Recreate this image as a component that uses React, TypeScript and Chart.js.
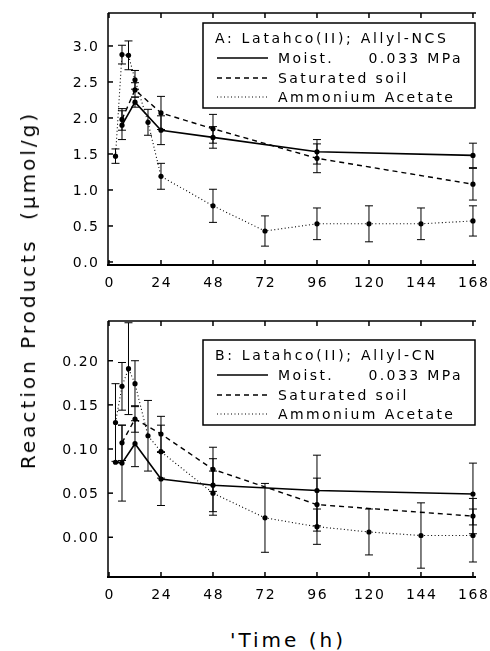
import React, { useEffect, useRef } from 'react';
import { Chart, registerables } from 'chart.js';
Chart.register(...registerables);

const FONT = '"DejaVu Sans", sans-serif';

// ---- tick labels ----
const xTicks = [0, 24, 48, 72, 96, 120, 144, 168];
const yTicksA = [0, 0.5, 1.0, 1.5, 2.0, 2.5, 3.0];
const yTicksB = [0, 0.05, 0.10, 0.15, 0.20];

// ---- legend text ----
const seriesLabels = ['Moist.     0.033 MPa', 'Saturated soil', 'Ammonium Acetate'];
const titleA = 'A: Latahco(II); Allyl-NCS';
const titleB = 'B: Latahco(II); Allyl-CN';
const yTitle = 'Reaction Products  (µmol/g)';
const xTitle = "'Time (h)";

// ---- panel A data ----
const timesA_moist = [6, 12, 24, 48, 96, 168];
const valA_moist = [1.90, 2.22, 1.83, 1.73, 1.53, 1.48];
const errA_moist = [0.2, 0.07, 0.2, 0.15, 0.17, 0.17];
const timesA_sat = [6, 12, 24, 48, 96, 168];
const valA_sat = [1.98, 2.39, 2.07, 1.85, 1.44, 1.08];
const errA_sat = [0.15, 0.1, 0.23, 0.2, 0.2, 0.22];
const timesA_amm = [3, 6, 9, 12, 18, 24, 48, 72, 96, 120, 144, 168];
const valA_amm = [1.47, 2.88, 2.87, 2.53, 1.94, 1.19, 0.78, 0.43, 0.53, 0.53, 0.53, 0.57];
const errA_amm = [0.1, 0.13, 0.2, 0.13, 0.18, 0.18, 0.23, 0.21, 0.22, 0.25, 0.22, 0.21];

// ---- panel B data ----
const timesB_moist = [3, 6, 12, 24, 48, 96, 168];
const valB_moist = [0.085, 0.084, 0.106, 0.066, 0.059, 0.053, 0.049];
const errB_moist = [0, 0.043, 0.026, 0.03, 0.03, 0.04, 0.035];
const timesB_sat = [6, 12, 24, 48, 96, 168];
const valB_sat = [0.107, 0.134, 0.117, 0.077, 0.037, 0.024];
const errB_sat = [0.02, 0.015, 0.02, 0.025, 0.03, 0.02];
const timesB_amm = [3, 6, 9, 12, 18, 24, 48, 72, 96, 120, 144, 168];
const valB_amm = [0.13, 0.171, 0.191, 0.174, 0.115, 0.097, 0.05, 0.022, 0.012, 0.006, 0.002, 0.002];
const errB_amm = [0.044, 0.027, 0.052, 0.026, 0.04, 0.03, 0.025, 0.039, 0.02, 0.026, 0.037, 0.03];

const dashes = [[], [5, 4], [1, 2.5]];
const widths = [1.6, 1.4, 1.1];

function drawSpaced(ctx: CanvasRenderingContext2D, text: string, x: number, y: number, align: string, ls: number) {
  ctx.letterSpacing = ls + 'px';
  ctx.textAlign = 'left';
  const w = ctx.measureText(text).width - ls;
  let x0 = x;
  if (align === 'center') x0 = x - w / 2;
  else if (align === 'right') x0 = x - w;
  ctx.fillText(text, x0, y);
  ctx.letterSpacing = '0px';
}

function makePlugin(cfg: any) {
  return {
    id: 'frameAndErrors',
    afterDatasetsDraw(chart: any) {
      const ctx = chart.ctx;
      const xs = chart.scales.x, ys = chart.scales.y;
      ctx.save();
      ctx.strokeStyle = '#000';
      ctx.lineWidth = 1;
      ctx.setLineDash([]);
      chart.data.datasets.forEach((ds: any, i: number) => {
        const errs = cfg.errs[i];
        ds.data.forEach((p: any, j: number) => {
          const e = errs[j];
          if (!e) return;
          const px = xs.getPixelForValue(p.x);
          const y1 = ys.getPixelForValue(p.y + e);
          const y2 = ys.getPixelForValue(p.y - e);
          ctx.beginPath();
          ctx.moveTo(px, y1); ctx.lineTo(px, y2);
          ctx.moveTo(px - 4, y1); ctx.lineTo(px + 4, y1);
          ctx.moveTo(px - 4, y2); ctx.lineTo(px + 4, y2);
          ctx.stroke();
        });
      });
      ctx.restore();
    },
    afterDraw(chart: any) {
      const ctx = chart.ctx;
      const xs = chart.scales.x, ys = chart.scales.y;
      const { left, right, top, bottom } = chart.chartArea;
      ctx.save();
      ctx.strokeStyle = '#000';
      ctx.fillStyle = '#000';
      ctx.setLineDash([]);
      // axes
      ctx.lineWidth = 2;
      ctx.beginPath(); ctx.moveTo(left - 1, bottom); ctx.lineTo(right, bottom); ctx.stroke();
      ctx.lineWidth = 1.5;
      ctx.beginPath(); ctx.moveTo(left, top); ctx.lineTo(left, bottom); ctx.stroke();
      ctx.beginPath(); ctx.moveTo(left, top); ctx.lineTo(right, top); ctx.stroke();
      // x ticks
      ctx.font = '14px ' + FONT;
      ctx.textBaseline = 'alphabetic';
      xTicks.forEach((v) => {
        const px = xs.getPixelForValue(v);
        ctx.beginPath();
        ctx.moveTo(px, bottom); ctx.lineTo(px, bottom - 5);
        ctx.moveTo(px, top); ctx.lineTo(px, top + 5);
        ctx.stroke();
        drawSpaced(ctx, String(v), px, bottom + 22, 'center', 1.5);
      });
      // y ticks
      cfg.yTicks.forEach((v: number) => {
        const py = ys.getPixelForValue(v);
        ctx.beginPath(); ctx.moveTo(left, py); ctx.lineTo(left + 5, py); ctx.stroke();
        drawSpaced(ctx, v.toFixed(cfg.decimals), left - 10, py + 5, 'right', 1.5);
      });
      // legend
      const bx = left + 95, bw = right - 1 - bx, by = top + cfg.legendTop, bh = 85;
      ctx.fillStyle = '#fff';
      ctx.fillRect(bx, by, bw, bh);
      ctx.fillStyle = '#000';
      ctx.lineWidth = 1.5;
      ctx.strokeRect(bx, by, bw, bh);
      ctx.font = '14px ' + FONT;
      drawSpaced(ctx, cfg.title, left + 107, by + 20, 'left', 2.7);
      const rows = [35, 55, 74];
      chart.data.datasets.forEach((ds: any, i: number) => {
        const cy = by + rows[i];
        ctx.lineWidth = widths[i];
        ctx.setLineDash(dashes[i]);
        ctx.beginPath(); ctx.moveTo(left + 109, cy); ctx.lineTo(left + 160, cy); ctx.stroke();
        ctx.setLineDash([]);
        drawSpaced(ctx, ds.label, left + 170, cy + 5, 'left', 2.4);
      });
      ctx.restore();
    },
  };
}

function buildChart(canvas: HTMLCanvasElement, cfg: any) {
  const series = cfg.series.map((s: any, i: number) => ({
    label: seriesLabels[i],
    data: s.t.map((t: number, j: number) => ({ x: t, y: s.v[j] })),
    borderColor: '#000',
    backgroundColor: '#000',
    borderWidth: widths[i],
    borderDash: dashes[i],
    pointRadius: 2.6,
    pointBorderWidth: 0,
    pointBackgroundColor: '#000',
    tension: 0,
    fill: false,
  }));
  return new Chart(canvas, {
    type: 'line',
    data: { datasets: series },
    options: {
      animation: false,
      responsive: false,
      maintainAspectRatio: false,
      layout: { padding: { top: cfg.padTop, right: 14, left: 0, bottom: 0 } },
      plugins: { legend: { display: false }, tooltip: { enabled: false } },
      scales: {
        x: {
          type: 'linear', min: -0.46, max: 169.4,
          grid: { display: false }, border: { display: false },
          ticks: { display: false },
          afterFit: (s: any) => { s.height = cfg.xAxisH; },
        },
        y: {
          type: 'linear', min: cfg.yMin, max: cfg.yMax,
          grid: { display: false }, border: { display: false },
          ticks: { display: false },
          afterFit: (s: any) => { s.width = 108; },
        },
      },
    },
    plugins: [makePlugin(cfg)],
  } as any);
}

function Panel(props: any) {
  const ref = useRef<HTMLCanvasElement>(null);
  useEffect(() => {
    const chart = buildChart(ref.current!, props.cfg);
    return () => chart.destroy();
  }, []);
  return (
    <canvas
      ref={ref}
      width={490}
      height={props.height}
      style={{ position: 'absolute', left: 0, top: props.top, width: 490, height: props.height }}
    />
  );
}

const cfgA = {
  series: [
    { t: timesA_moist, v: valA_moist },
    { t: timesA_sat, v: valA_sat },
    { t: timesA_amm, v: valA_amm },
  ],
  errs: [errA_moist, errA_sat, errA_amm],
  yMin: -0.042, yMax: 3.458, yTicks: yTicksA, decimals: 1,
  title: titleA, legendTop: 10, padTop: 13, xAxisH: 35,
};
const cfgB = {
  series: [
    { t: timesB_moist, v: valB_moist },
    { t: timesB_sat, v: valB_sat },
    { t: timesB_amm, v: valB_amm },
  ],
  errs: [errB_moist, errB_sat, errB_amm],
  yMin: -0.045, yMax: 0.245, yTicks: yTicksB, decimals: 2,
  title: titleB, legendTop: 19, padTop: 21, xAxisH: 33,
};

export default function App() {
  return (
    <div style={{ position: 'absolute', left: 0, top: 0, width: 490, height: 651, background: '#fff', fontFamily: FONT, color: '#000', overflow: 'hidden' }}>
      <Panel cfg={cfgA} top={0} height={300} />
      <Panel cfg={cfgB} top={300} height={310} />
      <div style={{ position: 'absolute', left: 28, top: 290, transform: 'translate(-50%, -50%) rotate(-90deg)', whiteSpace: 'pre', fontSize: 20, letterSpacing: '3px', lineHeight: '20px' }}>
        {yTitle}
      </div>
      <div style={{ position: 'absolute', left: 288, top: 640, transform: 'translate(-50%, -50%)', whiteSpace: 'pre', fontSize: 20, letterSpacing: '3px', lineHeight: '20px' }}>
        {xTitle}
      </div>
    </div>
  );
}
